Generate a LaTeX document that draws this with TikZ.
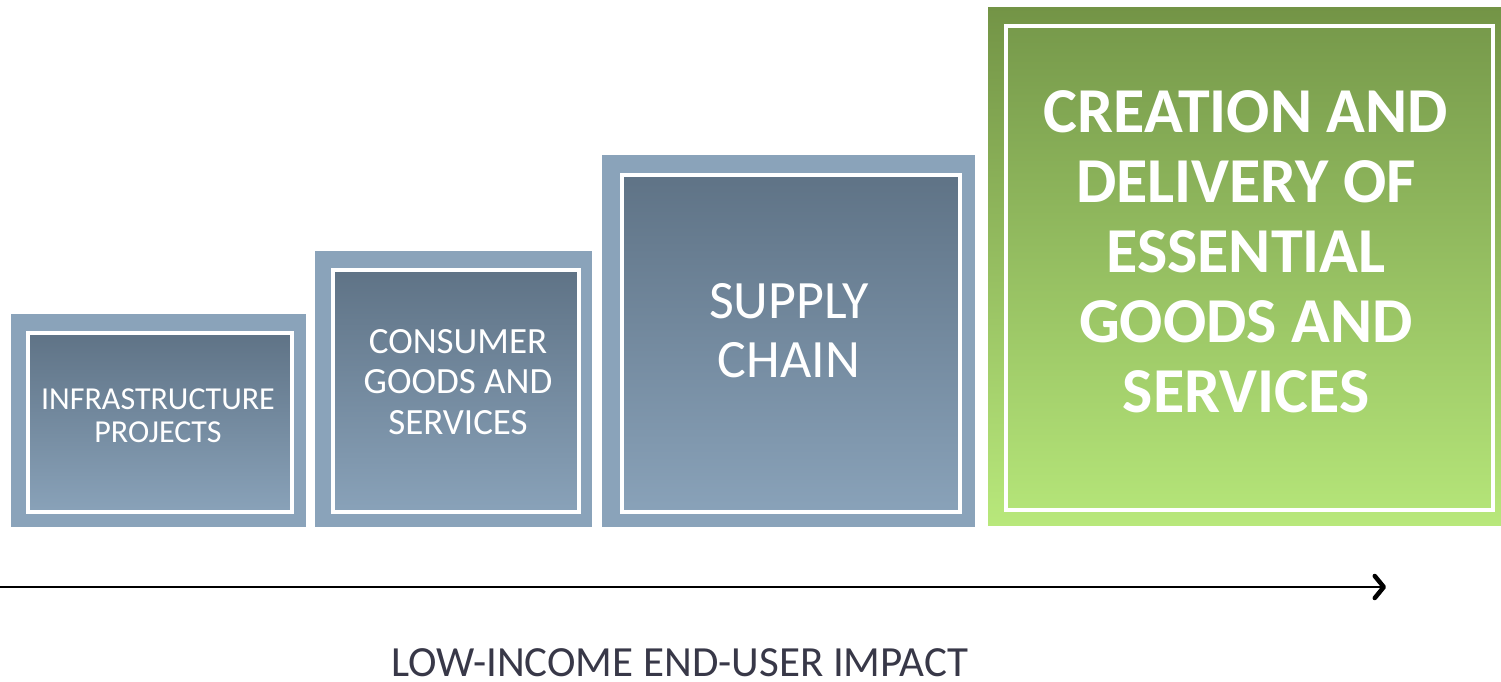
\documentclass[tikz,border=0pt]{standalone}
\usepackage{fontspec}
\setmainfont{Carlito}
\usetikzlibrary{arrows.meta}
\definecolor{bluebase}{HTML}{8AA3BA}
\definecolor{bluetop}{HTML}{5F7386}
\definecolor{bluebot}{HTML}{89A2B9}
\definecolor{greentop}{HTML}{739446}
\definecolor{greenbot}{HTML}{B8E87B}
\definecolor{greenitop}{HTML}{779A4B}
\definecolor{greenibot}{HTML}{B4E478}
\definecolor{labelcol}{HTML}{383848}
\tikzset{
  outerbox/.style={rectangle, fill=bluebase, draw=none, inner sep=0pt, anchor=north west},
  innerbox/.style={rectangle, top color=bluetop, bottom color=bluebot, draw=white, line width=4pt, inner sep=0pt, anchor=north west},
  gouterbox/.style={rectangle, top color=greentop, bottom color=greenbot, draw=none, inner sep=0pt, anchor=north west},
  ginnerbox/.style={rectangle, top color=greenitop, bottom color=greenibot, draw=white, line width=4pt, inner sep=0pt, anchor=north west},
  boxtext/.style={text=white, align=center, inner sep=0pt, anchor=base},
}
\begin{document}
\begin{tikzpicture}[x=1pt,y=-1pt]
\useasboundingbox (0,0) rectangle (1501,682);
% box 1
\node[outerbox, minimum width=295pt, minimum height=213pt] (o1) at (11,314) {};
\node[innerbox, minimum width=264pt, minimum height=179pt] (i1) at (26,331) {};
\node[boxtext, font=\fontsize{32}{33}\selectfont] (t1) at (158,442) {INFRASTRUCTURE\\PROJECTS};
% box 2
\node[outerbox, minimum width=277pt, minimum height=276pt] (o2) at (315,251) {};
\node[innerbox, minimum width=246pt, minimum height=242pt] (i2) at (331,268) {};
\node[boxtext, font=\fontsize{37}{40.5}\selectfont] (t2) at (458,434) {CONSUMER\\GOODS AND\\SERVICES};
% box 3
\node[outerbox, minimum width=373pt, minimum height=372pt] (o3) at (602,155) {};
\node[innerbox, minimum width=338pt, minimum height=337pt] (i3) at (620,173) {};
\node[boxtext, font=\fontsize{54}{59}\selectfont] (t3) at (789,377) {SUPPLY\\CHAIN};
% box 4
\node[gouterbox, minimum width=513pt, minimum height=518pt] (o4) at (988,7) {};
\node[ginnerbox, minimum width=487pt, minimum height=484pt] (i4) at (1004,24) {};
\node[boxtext, font=\bfseries\fontsize{64}{70}\selectfont] (t4) at (1246,412) {CREATION AND\\DELIVERY OF\\ESSENTIAL\\GOODS AND\\SERVICES};
% arrow
\coordinate (a0) at (0,587);
\coordinate (a1) at (1386,587);
\draw[line width=2.5pt, -{Straight Barb[length=9pt,width=22pt,line width=4.5pt,round]}] (a0) -- (a1);
\node[text=labelcol, inner sep=0pt, anchor=base, text depth=0pt, font=\fontsize{43}{50}\selectfont] (lbl) at (680,676) {LOW-INCOME END-USER IMPACT};
\end{tikzpicture}
\end{document}
